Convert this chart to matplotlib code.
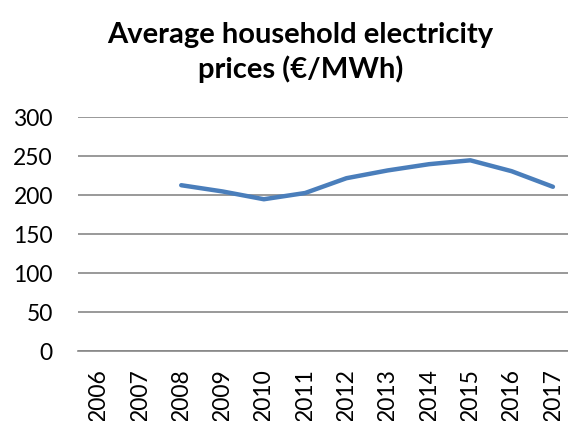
import matplotlib.pyplot as plt
import numpy as np

years = ['2006', '2007', '2008', '2009', '2010', '2011', '2012', '2013', '2014', '2015', '2016', '2017']
prices = [np.nan, np.nan, 213, 205, 195, 203, 222, 232, 240, 245, 231, 211]

plt.rcParams['font.family'] = ['Lato', 'DejaVu Sans']

fig = plt.figure(figsize=(5.68, 4.21), dpi=100)
ax = fig.add_axes([0.1373, 0.166, 0.8725, 0.555])

x = np.arange(len(years))
ax.plot(x, prices, color='#4a7ebb', linewidth=3.2, solid_capstyle='round', solid_joinstyle='round')

ax.set_xlim(-0.5, len(years) - 0.5)
ax.set_ylim(0, 300)
ax.set_yticks(range(0, 301, 50))
ax.set_xticks(x)
ax.set_xticklabels(years, rotation=90, fontsize=16.5)
ax.tick_params(axis='y', labelsize=16.5, length=0, pad=18)
ax.tick_params(axis='x', length=0, pad=12)
ax.grid(axis='y', color='#878787', linewidth=1.2)
ax.set_axisbelow(True)
for side in ['left', 'right', 'top']:
    ax.spines[side].set_visible(False)
ax.spines['bottom'].set_color('#878787')
ax.spines['bottom'].set_linewidth(1.2)

fig.text(0.529, 0.875, 'Average household electricity\nprices (€/MWh)', ha='center', va='center',
         fontsize=21, fontweight='bold', linespacing=1.3)

fig.savefig('out.png', dpi=100)
